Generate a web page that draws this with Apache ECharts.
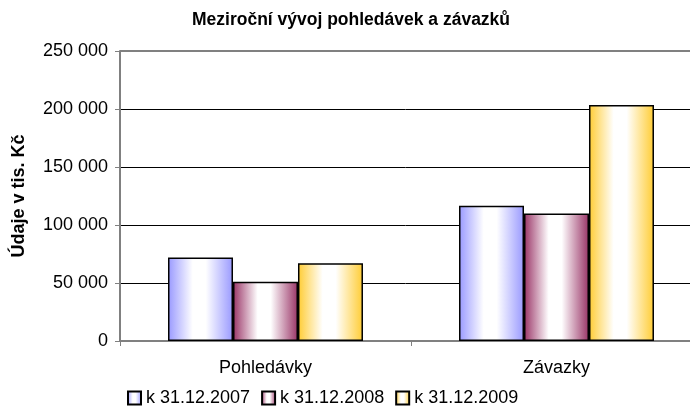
<!DOCTYPE html>
<html><head><meta charset="utf-8">
<script src="https://cdn.jsdelivr.net/npm/echarts@6/dist/echarts.min.js"></script>
<style>html,body{margin:0;padding:0;background:#fff}#c{width:690px;height:416px}</style>
</head><body><div id="c"></div>
<script>
const categories = ['Pohledávky', 'Závazky'];
const seriesNames = ['k 31.12.2007', 'k 31.12.2008', 'k 31.12.2009'];
const values2007 = [72000, 116500];
const values2008 = [51000, 110000];
const values2009 = [67000, 203500];
const edgeColors = ['#9999ff', '#993366', '#ffcc33'];
const FONT = '"Liberation Sans", Arial, sans-serif';

function grad(c) {
  return new echarts.graphic.LinearGradient(0, 0, 1, 0, [
    {offset: 0, color: c},
    {offset: 0.38, color: '#ffffff'},
    {offset: 0.58, color: '#ffffff'},
    {offset: 1, color: c}
  ]);
}
const allValues = [values2007, values2008, values2009];
const chart = echarts.init(document.getElementById('c'), null, {renderer: 'canvas'});
chart.setOption({
  animation: false,
  title: {
    text: 'Meziroční vývoj pohledávek a závazků',
    left: 192, top: 11, padding: 0,
    textStyle: {fontFamily: FONT, fontSize: 17.5, fontWeight: 'bold', color: '#000'}
  },
  legend: {
    top: 389, left: 127, padding: 0, icon: 'rect',
    itemWidth: 13, itemHeight: 13, itemGap: 11,
    textStyle: {fontFamily: FONT, fontSize: 18, color: '#000', padding: [0, 0, 0, 0]},
    data: seriesNames
  },
  grid: {left: 120, right: -12, top: 51, bottom: 75, containLabel: false, outerBoundsMode: 'none'},
  xAxis: {
    type: 'category', data: categories,
    axisLine: {lineStyle: {color: '#808080', width: 2}},
    axisTick: {show: true, length: 5, lineStyle: {color: '#808080'}},
    axisLabel: {fontFamily: FONT, fontSize: 18, color: '#000', margin: 18}
  },
  yAxis: {
    type: 'value', min: 0, max: 250000, interval: 50000,
    name: 'Údaje v tis. Kč', nameLocation: 'middle', nameGap: 92, nameRotate: 90,
    nameTextStyle: {fontFamily: FONT, fontSize: 18, fontWeight: 'bold', color: '#000'},
    axisLine: {show: true, lineStyle: {color: '#808080', width: 2}},
    axisTick: {show: true, length: 5, lineStyle: {color: '#808080'}},
    splitLine: {lineStyle: {color: '#000', width: 1}},
    axisLabel: {
      fontFamily: FONT, fontSize: 18, color: '#000', margin: 12,
      formatter: v => String(v).replace(/\B(?=(\d{3})+(?!\d))/g, ' ')
    }
  },
  series: seriesNames.map((n, i) => ({
    name: n, type: 'bar', data: allValues[i],
    barGap: '0%', barCategoryGap: '33%',
    itemStyle: {color: grad(edgeColors[i]), borderColor: '#000', borderWidth: 1.5},
    markLine: i === 0 ? {
      silent: true, symbol: 'none', label: {show: false},
      lineStyle: {color: '#808080', width: 2, type: 'solid'},
      data: [{yAxis: 250000}]
    } : undefined
  }))
});
</script></body></html>
